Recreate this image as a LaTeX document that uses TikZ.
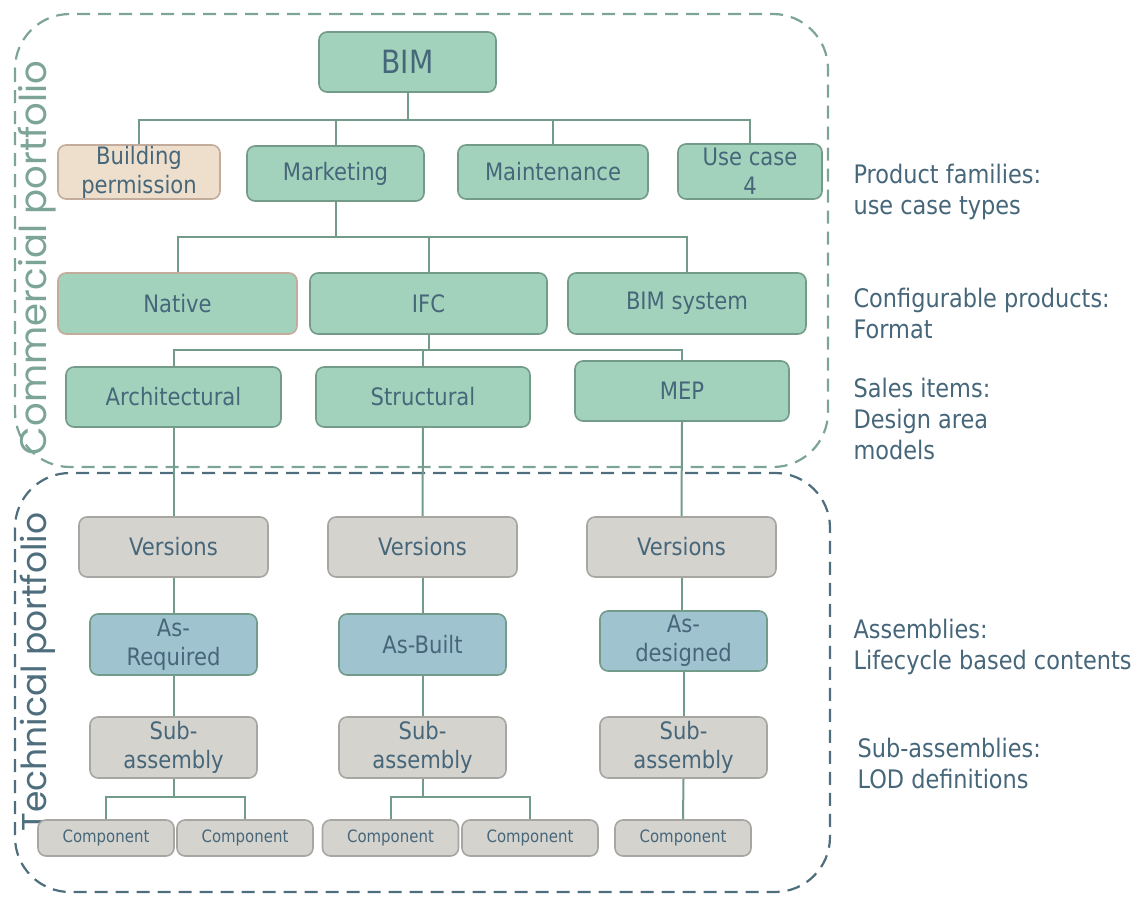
\documentclass[tikz,border=0pt]{standalone}
\usepackage{fontspec}
\setmainfont{DejaVu Sans}[FakeStretch=0.88]
\newfontfamily\sidefont{Poppins}
\definecolor{gfill}{HTML}{A2D2BC}
\definecolor{gline}{HTML}{739B8A}
\definecolor{txt}{HTML}{46667A}
\definecolor{bfill}{HTML}{EEDFCD}
\definecolor{bline}{HTML}{C3AC9C}
\definecolor{grfill}{HTML}{D5D3CE}
\definecolor{grline}{HTML}{A8A6A2}
\definecolor{blfill}{HTML}{9FC4D0}
\definecolor{commc}{HTML}{7DA597}
\definecolor{techc}{HTML}{4E6E7D}
\tikzset{
  sz/.style 2 args={minimum width=#1pt, minimum height=#2pt},
  box/.style={rounded corners=8pt, line width=1.6pt, inner sep=0pt, align=center,
    text=txt, font=\fontsize{24}{29}\selectfont},
  gbox/.style={box, fill=gfill, draw=gline},
  pbox/.style={box, fill=bfill, draw=bline},
  nbox/.style={box, fill=gfill, draw=bline},
  vbox/.style={box, fill=grfill, draw=grline},
  abox/.style={box, fill=blfill, draw=gline},
  cbox/.style={vbox, sz={136}{36}, font=\fontsize{17}{20}\selectfont},
  conn/.style={draw=gline, line width=2pt},
  frame/.style={dashed, dash pattern=on 13pt off 8pt, line width=2.2pt, rounded corners=55pt},
  side/.style={anchor=west, align=left, text=txt, font=\fontsize{25.5}{31}\selectfont},
  vlabel/.style={rotate=90, font=\sidefont}
}
\begin{document}
\begin{tikzpicture}[x=1pt,y=-1pt]
\useasboundingbox (0,0) rectangle (1148,897);

% portfolio frames
\draw[frame, draw=commc] (15,14) rectangle (828,467);
\draw[frame, draw=techc] (15,473) rectangle (830,892);
\node[vlabel, text=commc, font=\sidefont\fontsize{37}{40}\selectfont] (comlab) at (37,258) {Commercial portfolio};
\node[vlabel, text=techc, font=\sidefont\fontsize{34.5}{38}\selectfont] (techlab) at (38,672) {Technical portfolio};

% commercial tree
\node[gbox, sz={177}{60}, font=\fontsize{32}{36}\selectfont] (bim) at (407.5,62) {BIM};
\node[pbox, sz={162}{54}] (bp) at (139,172) {Building\\permission};
\node[gbox, sz={177}{55}] (mk) at (335.5,173.5) {Marketing};
\node[gbox, sz={190}{54}] (mt) at (553,172) {Maintenance};
\node[gbox, sz={144}{55}] (uc) at (750,171.5) {Use case\\4};

\node[nbox, sz={239}{61}] (nat) at (177.5,303.5) {Native};
\node[gbox, sz={237}{61}] (ifc) at (428.5,303.5) {IFC};
\node[gbox, sz={238}{61}] (bsys) at (687,303.5) {BIM system};

\node[gbox, sz={215}{60}] (arch) at (173.5,397) {Architectural};
\node[gbox, sz={214}{60}] (struc) at (423,397) {Structural};
\node[gbox, sz={214}{60}] (mep) at (682,391) {MEP};

% technical tree
\node[vbox, sz={189}{60}] (v1) at (173.5,547) {Versions};
\node[vbox, sz={189}{60}] (v2) at (422.5,547) {Versions};
\node[vbox, sz={189}{60}] (v3) at (681.5,547) {Versions};

\node[abox, sz={167}{61}] (a1) at (173.5,644.5) {As-\\Required};
\node[abox, sz={167}{61}] (a2) at (422.5,644.5) {As-Built};
\node[abox, sz={167}{60}] (a3) at (683.5,641) {As-\\designed};

\node[vbox, sz={167}{61}] (s1) at (173.5,747.5) {Sub-\\assembly};
\node[vbox, sz={167}{61}] (s2) at (422.5,747.5) {Sub-\\assembly};
\node[vbox, sz={167}{61}] (s3) at (683.5,747.5) {Sub-\\assembly};

\node[cbox] (c1) at (106,838) {Component};
\node[cbox] (c2) at (245,838) {Component};
\node[cbox] (c3) at (390.5,838) {Component};
\node[cbox] (c4) at (530,838) {Component};
\node[cbox] (c5) at (683,838) {Component};

% junction points
\coordinate (j1) at (407.5,120);
\coordinate (j2) at (335.5,237);
\coordinate (j3) at (428.5,350);
\coordinate (j4) at (173.5,797);
\coordinate (j5) at (422.5,797);

% connectors
\draw[conn] (bim.south) -- (j1);
\draw[conn] (j1) -| (bp.north);
\draw[conn] (j1) -| (mk.north);
\draw[conn] (j1) -| (mt.north);
\draw[conn] (j1) -| (uc.north);
\draw[conn] (mk.south) -- (j2);
\draw[conn] (j2) -| (nat.north);
\draw[conn] (j2) -| (ifc.north);
\draw[conn] (j2) -| (bsys.north);
\draw[conn] (ifc.south) -- (j3);
\draw[conn] (j3) -| (arch.north);
\draw[conn] (j3) -| (struc.north);
\draw[conn] (j3) -| (mep.north);
\draw[conn] (arch.south) -- (v1.north);
\draw[conn] (struc.south) -- (v2.north);
\draw[conn] (mep.south) -- (v3.north);
\draw[conn] (v1.south) -- (a1.north);
\draw[conn] (v2.south) -- (a2.north);
\draw[conn] (v3.south) -- (a3.north -| v3.south);
\draw[conn] (a1.south) -- (s1.north);
\draw[conn] (a2.south) -- (s2.north);
\draw[conn] (a3.south) -- (s3.north);
\draw[conn] (s1.south) -- (j4);
\draw[conn] (j4) -| (c1.north);
\draw[conn] (j4) -| (c2.north);
\draw[conn] (s2.south) -- (j5);
\draw[conn] (j5) -| (c3.north);
\draw[conn] (j5) -| (c4.north);
\draw[conn] (s3.south) -- (c5.north);

% level descriptions
\node[side] (l1) at (850,191.5) {Product families:\\use case types};
\node[side] (l2) at (850,313) {Configurable products:\\Format};
\node[side] (l3) at (850,419) {Sales items:\\Design area\\models};
\node[side] (l4) at (850,647) {Assemblies:\\Lifecycle based contents};
\node[side] (l5) at (854,763.5) {Sub-assemblies:\\LOD definitions};
\end{tikzpicture}
\end{document}
